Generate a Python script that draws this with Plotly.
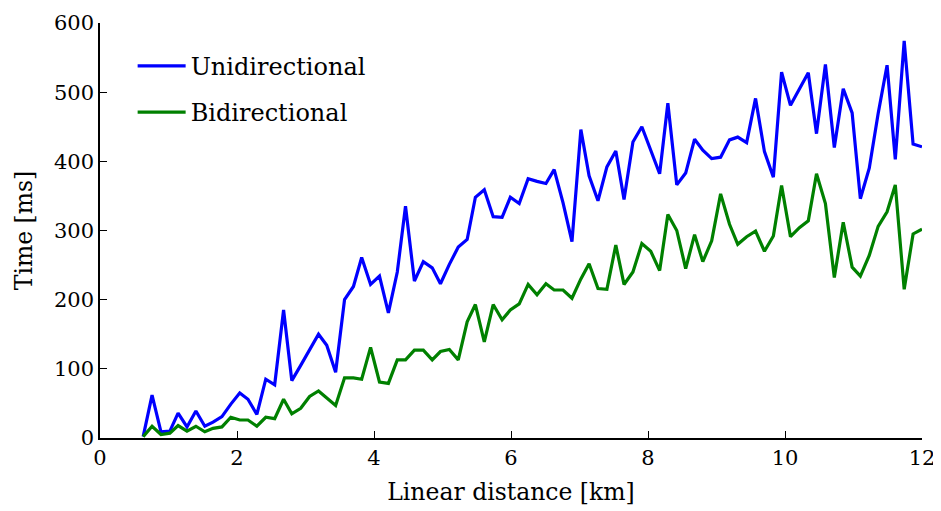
import plotly.graph_objects as go

distance_km = [0.63, 0.76, 0.89, 1.02, 1.14, 1.27, 1.40, 1.53, 1.65, 1.78,
               1.91, 2.04, 2.16, 2.29, 2.42, 2.55, 2.68, 2.80, 2.93, 3.06,
               3.19, 3.31, 3.44, 3.57, 3.70, 3.82, 3.95, 4.08, 4.21, 4.34,
               4.46, 4.59, 4.72, 4.85, 4.97, 5.10, 5.23, 5.36, 5.48, 5.61,
               5.74, 5.87, 5.99, 6.12, 6.25, 6.38, 6.51, 6.63, 6.76, 6.89,
               7.02, 7.14, 7.27, 7.40, 7.53, 7.65, 7.78, 7.91, 8.04, 8.17,
               8.29, 8.42, 8.55, 8.68, 8.80, 8.93, 9.06, 9.19, 9.31, 9.44,
               9.57, 9.70, 9.83, 9.95, 10.08, 10.21, 10.34, 10.46, 10.59, 10.72,
               10.85, 10.98, 11.10, 11.23, 11.36, 11.49, 11.61, 11.74, 11.87, 12.00]

unidirectional_ms = [2, 62, 9, 10, 36, 16, 39, 17, 23, 31,
                     49, 65, 56, 34, 85, 77, 185, 83, 105, 128,
                     150, 134, 95, 200, 219, 261, 222, 234, 181, 240,
                     335, 227, 255, 246, 223, 251, 276, 287, 348, 359,
                     320, 319, 348, 339, 375, 371, 368, 388, 340, 284,
                     446, 379, 343, 392, 415, 345, 428, 450, 416, 382,
                     484, 366, 383, 432, 416, 404, 406, 431, 435, 427,
                     491, 414, 377, 529, 481, 504, 528, 440, 540, 420,
                     505, 470, 346, 390, 469, 539, 403, 574, 425, 421]

bidirectional_ms = [2, 17, 5, 7, 18, 10, 17, 9, 14, 16,
                    30, 26, 26, 17, 30, 28, 56, 35, 43, 60,
                    68, 58, 47, 87, 87, 85, 131, 81, 79, 113,
                    113, 127, 127, 113, 125, 128, 113, 168, 193, 139,
                    193, 171, 185, 194, 222, 207, 223, 214, 214, 202,
                    230, 252, 216, 215, 279, 222, 240, 281, 270, 242,
                    323, 300, 245, 294, 255, 285, 353, 309, 280, 291,
                    299, 270, 292, 365, 291, 304, 314, 382, 339, 232,
                    312, 247, 234, 264, 306, 327, 366, 215, 295, 302]

series_names = ["Unidirectional", "Bidirectional"]
series_colors = ["#0000ff", "#008000"]

x_ticks = [0, 2, 4, 6, 8, 10, 12]
y_ticks = [0, 100, 200, 300, 400, 500, 600]

FONT = "DejaVu Serif"

fig = go.Figure()
for name, vals, col in zip(series_names, [unidirectional_ms, bidirectional_ms], series_colors):
    fig.add_trace(go.Scatter(x=distance_km, y=vals, mode="lines", name=name,
                             legendgroup=name,
                             line=dict(color=col, width=3.2)))

fig.update_layout(
    width=941, height=511,
    margin=dict(l=92, r=27, t=15, b=81),
    plot_bgcolor="white", paper_bgcolor="white",
    font=dict(family=FONT, size=21, color="black"),
    showlegend=True,
    legend=dict(x=0.0397, y=0.950, xanchor="left", yanchor="top",
                bgcolor="rgba(0,0,0,0)", borderwidth=0,
                font=dict(family=FONT, size=24, color="black"),
                itemwidth=48, traceorder="grouped", tracegroupgap=12),
)
fig.update_xaxes(range=[0, 12], tickvals=x_ticks, ticks="inside", ticklen=7,
                 tickwidth=1, tickcolor="black", showline=True, linecolor="black",
                 linewidth=1.5, showgrid=False, zeroline=False, mirror=False,
                 automargin=False,
                 title=dict(text="Linear distance [km]", font=dict(size=23.5), standoff=15),
                 tickfont=dict(size=21))
fig.update_yaxes(range=[0, 600], tickvals=y_ticks, ticks="inside", ticklen=7,
                 tickwidth=1, tickcolor="black", showline=True, linecolor="black",
                 linewidth=1.5, showgrid=False, zeroline=False, mirror=False,
                 automargin=False,
                 title=dict(text="Time [ms]", font=dict(size=23.5), standoff=15),
                 tickfont=dict(size=21))

fig.write_html("out.html")
